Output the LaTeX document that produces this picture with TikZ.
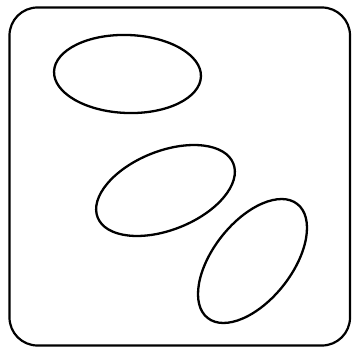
\documentclass[tikz,border=0pt]{standalone}
\begin{document}
\begin{tikzpicture}[x=1pt,y=-1pt,
  outline/.style={draw=black,line width=2.2pt},
  blob/.style={draw=black,line width=2.3pt}]
\useasboundingbox (0,0) rectangle (353,347);
\fill[white] (0,0) rectangle (353,347);
\draw[outline,rounded corners=28pt] (9.5,7.5) rectangle (350,345.5);
\node[coordinate] (e1) at (127.5,74) {};
\node[coordinate] (e2) at (165.5,190.5) {};
\node[coordinate] (e3) at (252.5,261) {};
\draw[blob] (e1) ellipse[x radius=73.5, y radius=39, rotate=-2];
\draw[blob] (e2) ellipse[x radius=73, y radius=39.4, rotate=21.7];
\draw[blob] (e3) ellipse[x radius=72.5, y radius=39.4, rotate=51.8];
\end{tikzpicture}
\end{document}
